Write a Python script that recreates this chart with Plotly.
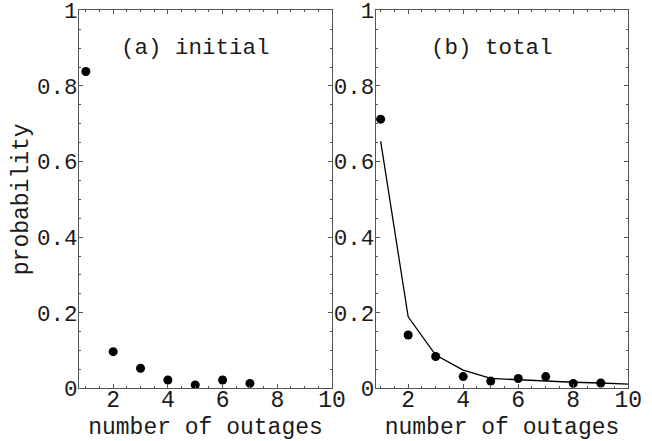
import plotly.graph_objects as go

# Panel (a): initial outages
init_x = [1, 2, 3, 4, 5, 6, 7]
init_p = [0.838, 0.097, 0.053, 0.022, 0.009, 0.022, 0.013]

# Panel (b): total outages (data points)
tot_x = [1, 2, 3, 4, 5, 6, 7, 8, 9]
tot_p = [0.712, 0.141, 0.084, 0.031, 0.019, 0.026, 0.031, 0.013, 0.014]

# Panel (b): fitted curve
fit_x = [1, 2, 3, 4, 5, 6, 7, 8, 9, 10]
fit_p = [0.654, 0.189, 0.088, 0.048, 0.026, 0.022, 0.019, 0.016, 0.014, 0.011]

x_ticks = [2, 4, 6, 8, 10]
y_ticks = [0, 0.2, 0.4, 0.6, 0.8, 1]
y_tick_text = ["0", "0.2", "0.4", "0.6", "0.8", "1"]

FONT = "Liberation Mono, Courier New, monospace"
TXT = "#1a1a1a"
W, H = 652, 441
frame = "#555555"

def px(x):
    return x / W

def py(y):
    return (H - y) / H

fig = go.Figure()
fig.add_trace(go.Scatter(x=init_x, y=init_p, mode="markers",
                         marker=dict(color="black", size=9), xaxis="x", yaxis="y"))
fig.add_trace(go.Scatter(x=fit_x, y=fit_p, mode="lines",
                         line=dict(color="black", width=1.3), xaxis="x2", yaxis="y2"))
fig.add_trace(go.Scatter(x=tot_x, y=tot_p, mode="markers",
                         marker=dict(color="black", size=9), xaxis="x2", yaxis="y2"))

ydom = [py(388.3), py(10.3)]

def xax(dom, rng):
    return dict(domain=dom, range=rng, tickvals=x_ticks, ticks="inside", ticklen=4,
                tickcolor=frame, showline=True, linecolor=frame, linewidth=1, mirror="ticks",
                showgrid=False, zeroline=False, automargin=False, ticklabelstandoff=-10,
                ticklabeloverflow="allow",
                tickfont=dict(family=FONT, size=23, color=TXT),
                minor=dict(dtick=0.5, tick0=0, ticks="inside", ticklen=2, tickcolor=frame),
                title=dict(text="number of outages", font=dict(family=FONT, size=23, color=TXT),
                           standoff=18))

def yax(anchor, with_title):
    d = dict(domain=ydom, range=[0, 1], tickvals=y_ticks, ticktext=y_tick_text,
             ticks="inside", ticklen=4, tickcolor=frame, showline=True, linecolor=frame,
             linewidth=1, mirror="ticks", showgrid=False, zeroline=False, automargin=False,
             ticklabelstandoff=-4, ticklabeloverflow="allow",
             anchor=anchor, tickfont=dict(family=FONT, size=22.5, color=TXT),
             minor=dict(dtick=0.05, tick0=0, ticks="inside", ticklen=2, tickcolor=frame))
    if with_title:
        d["title"] = dict(text="probability", font=dict(family=FONT, size=23, color=TXT),
                          standoff=1)
    return d

xa = xax([px(79), px(332)], [0.75, 10])
xa["anchor"] = "y"
xb = xax([px(375.7), px(628.3)], [0.82, 10])
xb["anchor"] = "y2"

fig.update_layout(
    width=W, height=H, showlegend=False,
    margin=dict(l=0, r=0, t=0, b=0),
    paper_bgcolor="white", plot_bgcolor="white",
    xaxis=xa, xaxis2=xb,
    yaxis=yax("x", True), yaxis2=yax("x2", False),
    annotations=[
        dict(text="(a) initial", x=px(195.5), y=py(48), xref="paper", yref="paper",
             xanchor="center", yanchor="middle",
             showarrow=False, font=dict(family=FONT, size=22.5, color=TXT)),
        dict(text="(b) total", x=px(491.7), y=py(48), xref="paper", yref="paper",
             xanchor="center", yanchor="middle",
             showarrow=False, font=dict(family=FONT, size=22.5, color=TXT)),
    ],
)

# remove the browser's default 8px page margin so the figure fills the window
fig.write_html("out.html", config={"displayModeBar": False},
               post_script="document.body.style.margin='0';")
